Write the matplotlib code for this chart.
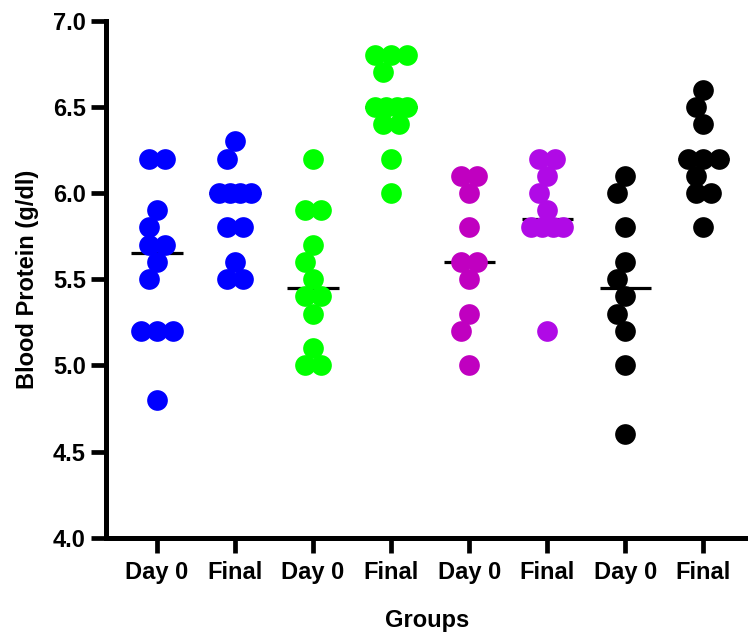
import numpy as np
import matplotlib
matplotlib.use("Agg")
import matplotlib.pyplot as plt

plt.rcParams['font.family'] = ['Liberation Sans', 'DejaVu Sans']
plt.rcParams['font.weight'] = 'bold'

# Blood protein values (g/dl) per group
blue_day0 = [6.2, 6.2, 5.9, 5.8, 5.7, 5.7, 5.6, 5.5, 5.2, 5.2, 5.2, 4.8]
blue_final = [6.3, 6.2, 6.0, 6.0, 6.0, 6.0, 5.8, 5.8, 5.6, 5.5, 5.5]
green_day0 = [6.2, 5.9, 5.9, 5.7, 5.6, 5.5, 5.4, 5.4, 5.3, 5.1, 5.0, 5.0]
green_final = [6.8, 6.8, 6.8, 6.7, 6.5, 6.5, 6.5, 6.5, 6.4, 6.4, 6.2, 6.0]
purple_day0 = [6.1, 6.1, 6.0, 5.8, 5.6, 5.6, 5.5, 5.3, 5.2, 5.0]
purple_final = [6.2, 6.2, 6.1, 6.0, 5.9, 5.8, 5.8, 5.8, 5.8, 5.2]
black_day0 = [6.1, 6.0, 5.8, 5.6, 5.5, 5.4, 5.3, 5.2, 5.0, 4.6]
black_final = [6.6, 6.5, 6.4, 6.2, 6.2, 6.2, 6.1, 6.0, 6.0, 5.8]

groups = [blue_day0, blue_final, green_day0, green_final,
          purple_day0, purple_final, black_day0, black_final]
colors = ['#0000ff', '#0000ff', '#00ff00', '#00ff00',
          '#c000c0', '#b00ae6', '#000000', '#000000']
tick_labels = ['Day 0', 'Final'] * 4

# pixel scale used for the swarm layout
PX_X = 78.1
PX_Y = 172.6
STEP = 16.0
DMIN = 18.5


def swarm(vals):
    """row based scatter: equal values sit in a centred row,
    single points step aside when they would sit right on a neighbour"""
    vals = np.asarray(vals, dtype=float)
    offs = np.zeros(len(vals))
    placed = []
    for v in sorted(set(vals), reverse=True):
        idx = np.where(np.isclose(vals, v))[0]
        n = len(idx)
        y = v * PX_Y
        if n > 1:
            sp = min(STEP, 2 * STEP / (n - 1))
            xs = [(i - (n - 1) / 2) * sp for i in range(n)]
        else:
            xs = [0.0]
            for c in [0.0, -STEP / 2, STEP / 2, -STEP, STEP]:
                if all(np.hypot(c - px, y - py) >= DMIN for (px, py) in placed):
                    xs = [c]
                    break
        for i, x in zip(idx, xs):
            offs[i] = x / PX_X
            placed.append((x, y))
    return offs


fig = plt.figure(figsize=(7.48, 6.36), dpi=100)
ax = fig.add_axes([0.1417, 0.1546, 0.8583, 0.8129])

for i, (vals, col) in enumerate(zip(groups, colors)):
    xo = swarm(vals)
    ax.scatter(i + xo, vals, s=222, color=col, linewidths=0, zorder=3)
    med = np.median(vals)
    ax.plot([i - 0.33, i + 0.33], [med, med], color='black', lw=2.3,
            solid_capstyle='butt', zorder=2)

ax.set_xlim(-0.653, 7.57)
ax.set_ylim(4.0, 7.0)
ax.set_yticks([4.0, 4.5, 5.0, 5.5, 6.0, 6.5, 7.0])
ax.set_yticklabels(['4.0', '4.5', '5.0', '5.5', '6.0', '6.5', '7.0'])
ax.set_xticks(range(8))
ax.set_xticklabels(tick_labels)

for side in ['top', 'right']:
    ax.spines[side].set_visible(False)
for side in ['left', 'bottom']:
    ax.spines[side].set_linewidth(3.6)
    ax.spines[side].set_capstyle('projecting')

ax.tick_params(axis='both', width=3.4, length=10.5, labelsize=17, pad=4)
ax.tick_params(axis='x', pad=6)

ax.set_ylabel('Blood Protein (g/dl)', fontsize=17, fontweight='bold', labelpad=10)
ax.set_xlabel('Groups', fontsize=17, fontweight='bold', labelpad=18)

fig.savefig('out.png', dpi=100)
